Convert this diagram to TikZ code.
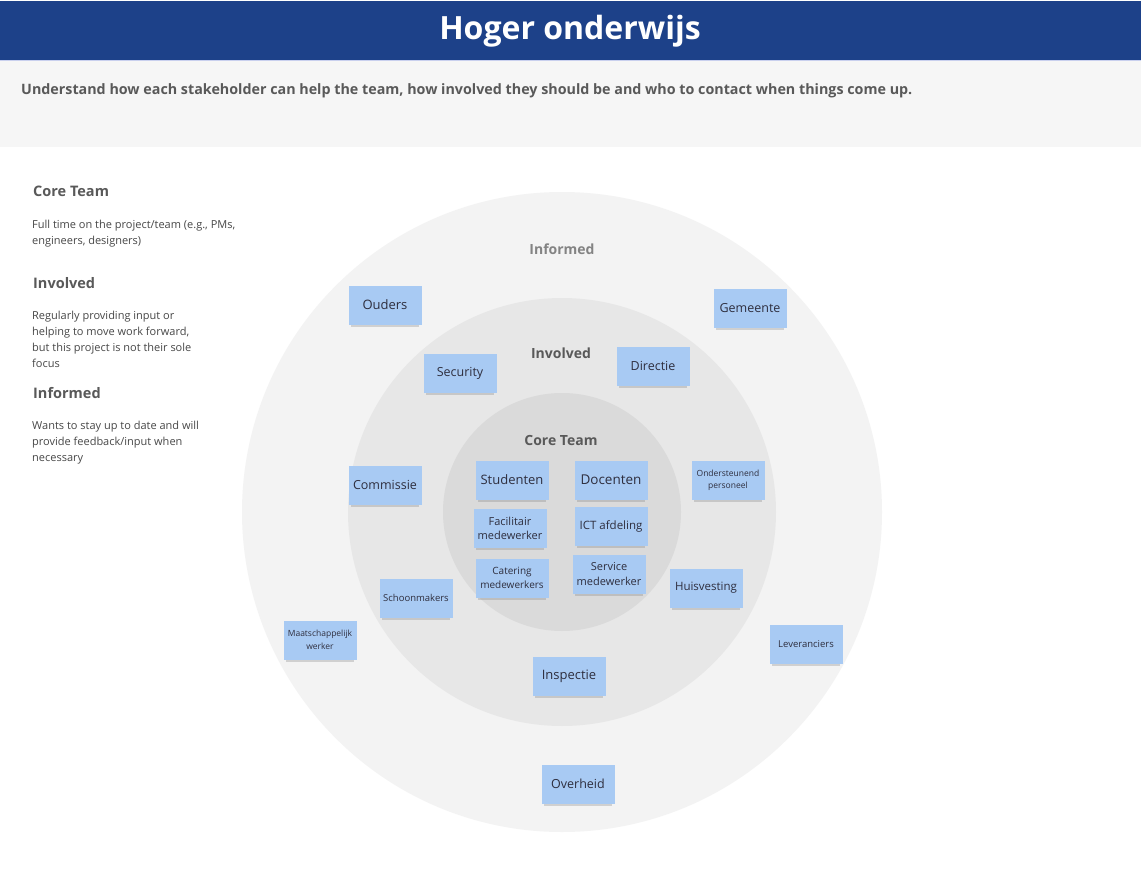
\documentclass[tikz,border=0pt]{standalone}
\usepackage{fontspec}
\setmainfont{Open Sans}
\usetikzlibrary{shadows}
\definecolor{headblue}{HTML}{1D4189}
\definecolor{headline}{HTML}{C9D0EE}
\definecolor{bandgrey}{HTML}{F6F6F6}
\definecolor{ringout}{HTML}{F3F3F3}
\definecolor{ringmid}{HTML}{E7E7E7}
\definecolor{ringin}{HTML}{DADADA}
\definecolor{notebl}{HTML}{A8CAF3}
\definecolor{notetxt}{HTML}{2E2E3E}
\definecolor{headtxt}{HTML}{595959}
\definecolor{bodytxt}{HTML}{474747}

\begin{document}
\begin{tikzpicture}[x=1pt,y=-1pt,
    note/.style={rectangle,fill=notebl,text=notetxt,minimum width=73,minimum height=39,inner sep=1pt,align=center,
        drop shadow={shadow xshift=0pt,shadow yshift=-3.5pt,shadow scale=.94,opacity=.3}},
    nf/.style 2 args={font=\fontsize{#1}{#2}\selectfont},
    ringlabel/.style={text=headtxt,font=\bfseries\fontsize{14}{16}\selectfont},
    legendhead/.style={anchor=base west,inner sep=0,text=headtxt,font=\bfseries\fontsize{14.5}{16}\selectfont},
    legendtext/.style={anchor=north west,inner sep=0,align=left,text=bodytxt,font=\fontsize{11}{16}\selectfont}]
    \useasboundingbox (0,0) rectangle (1141,875);
    \fill[white] (0,0) rectangle (1141,875);

    % header and intro band
    \fill[headblue] (0,1) rectangle (1141,60);
    \draw[headline,line width=1.2] (0,60.5) -- (1141,60.5);
    \fill[bandgrey] (0,61) rectangle (1141,147);
    \node[anchor=base,text=white,font=\bfseries\fontsize{32}{36}\selectfont] (title) at (570,40) {Hoger onderwijs};
    \node[anchor=base west,inner sep=0,text=headtxt,font=\bfseries\fontsize{14.3}{16}\selectfont] (intro) at (21,95)
        {Understand how each stakeholder can help the team, how involved they should be and who to contact when things come up.};

    % legend
    \node[legendhead] (corehead) at (33,196) {Core Team};
    \node[legendtext] (coretext) at (32,220) {Full time on the project/team (e.g., PMs,\\engineers, designers)};
    \node[legendhead] (invhead) at (33,288) {Involved};
    \node[legendtext] (invtext) at (32,311) {Regularly providing input or\\helping to move work forward,\\but this project is not their sole\\focus};
    \node[legendhead] (infhead) at (33,398) {Informed};
    \node[legendtext] (inftext) at (32,421) {Wants to stay up to date and will\\provide feedback/input when\\necessary};

    % rings
    \fill[ringout] (562,512) circle (320);
    \fill[ringmid] (562,512) circle (214);
    \fill[ringin] (562,512) circle (119);
    \node[ringlabel,text=headtxt!75] (informed) at (562,249) {Informed};
    \node[ringlabel] (involved) at (561,353) {Involved};
    \node[ringlabel] (core) at (561,440) {Core Team};

    % stakeholders
    \node[note,nf={13}{15}] (ouders) at (385,305) {Ouders};
    \node[note,nf={12.5}{15}] (gemeente) at (750,308) {Gemeente};
    \node[note,nf={12.5}{15}] (security) at (460,373) {Security};
    \node[note,nf={12.5}{15}] (directie) at (653,366) {Directie};
    \node[note,nf={12.5}{15}] (commissie) at (385,485) {Commissie};
    \node[note,nf={8.5}{12}] (ondersteunend) at (728,480) {Ondersteunend\\personeel};
    \node[note,nf={13}{15}] (studenten) at (512,480) {Studenten};
    \node[note,nf={13.5}{15}] (docenten) at (611,480) {Docenten};
    \node[note,nf={11}{14}] (facilitair) at (510,528) {Facilitair\\medewerker};
    \node[note,nf={11.5}{14}] (ict) at (611,526) {ICT afdeling};
    \node[note,nf={10}{14}] (catering) at (512,578) {Catering\\medewerkers};
    \node[note,nf={11}{15}] (service) at (609,574) {Service\\medewerker};
    \node[note,nf={9.5}{12}] (schoonmakers) at (416,598) {Schoonmakers};
    \node[note,nf={11.5}{14}] (huisvesting) at (706,588) {Huisvesting};
    \node[note,nf={8.5}{13}] (maatschappelijk) at (320,640) {Maatschappelijk\\werker};
    \node[note,nf={9.5}{12}] (leveranciers) at (806,644) {Leveranciers};
    \node[note,nf={13}{15}] (inspectie) at (569,676) {Inspectie};
    \node[note,nf={12.5}{15}] (overheid) at (578,784) {Overheid};
\end{tikzpicture}
\end{document}
